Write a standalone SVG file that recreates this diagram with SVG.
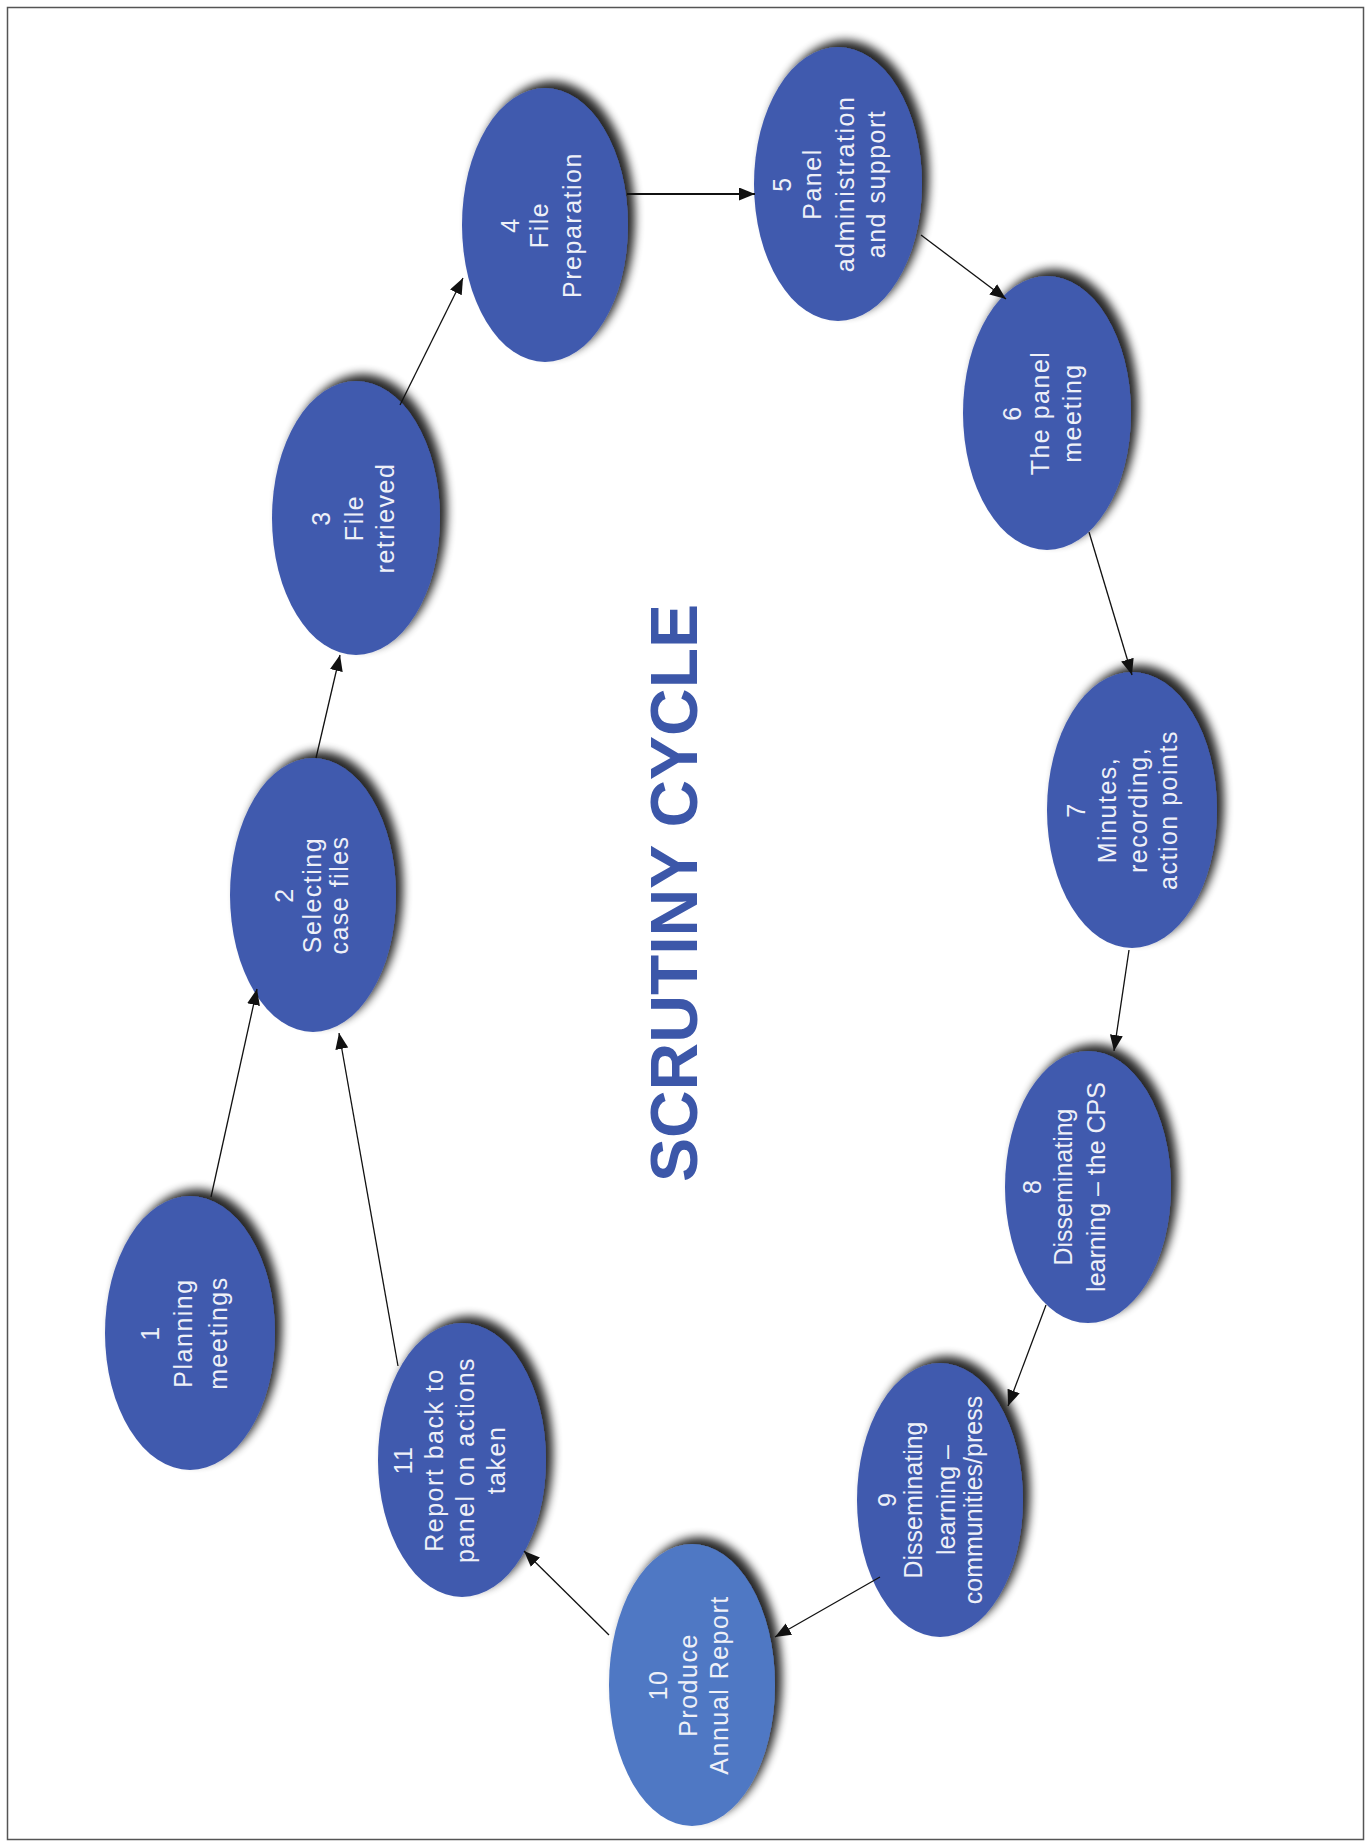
<svg xmlns="http://www.w3.org/2000/svg" width="1370" height="1843" viewBox="0 0 1370 1843">
<style>
.node{fill:#405aae;filter:url(#sh)}
.node10{fill:#4f78c4;filter:url(#sh)}
.lbl{font-family:"Liberation Sans",Arial,sans-serif;font-size:25px;fill:#eef0f8;text-anchor:middle;letter-spacing:1.5px}
.tight{letter-spacing:0}
.edge{stroke:#111;stroke-width:1.3;fill:none;marker-end:url(#ah)}
.title{font-family:"Liberation Sans",Arial,sans-serif;font-size:66px;font-weight:bold;fill:#3c57a9;text-anchor:middle}
</style>
<defs>
<filter id="sh" x="-30%" y="-30%" width="160%" height="160%">
<feGaussianBlur in="SourceAlpha" stdDeviation="5"/>
<feOffset dx="7" dy="-7"/>
<feComponentTransfer><feFuncA type="linear" slope="0.85"/></feComponentTransfer>
<feMerge><feMergeNode/><feMergeNode in="SourceGraphic"/></feMerge>
</filter>
<marker id="ah" markerUnits="userSpaceOnUse" markerWidth="18" markerHeight="14" refX="16" refY="6.5" orient="auto">
<path d="M0,0 L16,6.5 L0,13 z" fill="#111"/>
</marker>
</defs>
<rect x="0" y="0" width="1370" height="1843" fill="#ffffff"/>
<rect x="7.5" y="7.5" width="1356" height="1832" fill="none" stroke="#555" stroke-width="1.5"/>

<g id="title" transform="translate(673,893) rotate(-90)"><text class="title" x="0" y="24">SCRUTINY CYCLE</text></g>

<g id="node1"><ellipse class="node" cx="190" cy="1333" rx="85" ry="137"/>
<g transform="translate(190,1333) rotate(-90)" class="lbl"><text class="lbl" y="-31">1</text><text class="lbl" y="2">Planning</text><text class="lbl" y="37">meetings</text></g></g>

<g id="node2"><ellipse class="node" cx="313" cy="895" rx="83" ry="137"/>
<g transform="translate(313,895) rotate(-90)"><text class="lbl" y="-20">2</text><text class="lbl" y="8">Selecting</text><text class="lbl" y="35">case files</text></g></g>

<g id="node3"><ellipse class="node" cx="356" cy="518" rx="84" ry="137"/>
<g transform="translate(356,518) rotate(-90)"><text class="lbl" y="-26">3</text><text class="lbl" y="7">File</text><text class="lbl" y="38">retrieved</text></g></g>

<g id="node4"><ellipse class="node" cx="545" cy="225" rx="83" ry="137"/>
<g transform="translate(545,225) rotate(-90)"><text class="lbl" y="-26">4</text><text class="lbl" y="3">File</text><text class="lbl" y="36">Preparation</text></g></g>

<g id="node5"><ellipse class="node" cx="838" cy="184" rx="84" ry="137"/>
<g transform="translate(838,184) rotate(-90)"><text class="lbl" y="-47">5</text><text class="lbl" y="-17">Panel</text><text class="lbl" y="16">administration</text><text class="lbl" y="47">and support</text></g></g>

<g id="node6"><ellipse class="node" cx="1047" cy="413" rx="84" ry="137"/>
<g transform="translate(1047,413) rotate(-90)"><text class="lbl" y="-26">6</text><text class="lbl" y="2">The panel</text><text class="lbl" y="34">meeting</text></g></g>

<g id="node7"><ellipse class="node" cx="1132" cy="810" rx="85" ry="138"/>
<g transform="translate(1132,810) rotate(-90)"><text class="lbl" y="-47">7</text><text class="lbl" y="-16">Minutes,</text><text class="lbl" y="15">recording,</text><text class="lbl" y="45">action points</text></g></g>

<g id="node8"><ellipse class="node" cx="1088" cy="1187" rx="83" ry="136"/>
<g transform="translate(1088,1187) rotate(-90)"><text class="lbl tight" y="-47">8</text><text class="lbl tight" y="-16">Disseminating</text><text class="lbl tight" y="17">learning – the CPS</text></g></g>

<g id="node9"><ellipse class="node" cx="940" cy="1500" rx="83" ry="137"/>
<g transform="translate(940,1500) rotate(-90)"><text class="lbl tight" y="-44">9</text><text class="lbl tight" y="-18">Disseminating</text><text class="lbl tight" y="15">learning –</text><text class="lbl tight" y="42">communities/press</text></g></g>

<g id="node10"><ellipse class="node10" cx="692" cy="1685" rx="83" ry="141"/>
<g transform="translate(692,1685) rotate(-90)"><text class="lbl" y="-25">10</text><text class="lbl" y="5">Produce</text><text class="lbl" y="36">Annual Report</text></g></g>

<g id="node11"><ellipse class="node" cx="462" cy="1460" rx="84" ry="137"/>
<g transform="translate(462,1460) rotate(-90)"><text class="lbl" y="-50">11</text><text class="lbl" y="-19">Report back to</text><text class="lbl" y="12">panel on actions</text><text class="lbl" y="43">taken</text></g></g>

<g id="connectors">
<line class="edge" x1="211" y1="1197" x2="257" y2="989"/>
<line class="edge" x1="316" y1="758" x2="340" y2="655"/>
<line class="edge" x1="400" y1="405" x2="463" y2="278"/>
<line class="edge" x1="627" y1="194" x2="755" y2="194" style="stroke-width:2"/>
<line class="edge" x1="921" y1="235" x2="1006" y2="299"/>
<line class="edge" x1="1089" y1="532" x2="1132" y2="675"/>
<line class="edge" x1="1129" y1="950" x2="1114" y2="1051"/>
<line class="edge" x1="1046" y1="1305" x2="1008" y2="1406"/>
<line class="edge" x1="880" y1="1577" x2="775" y2="1637"/>
<line class="edge" x1="609" y1="1635" x2="524" y2="1551"/>
<line class="edge" x1="398" y1="1366" x2="339" y2="1033"/>
</g>
</svg>
